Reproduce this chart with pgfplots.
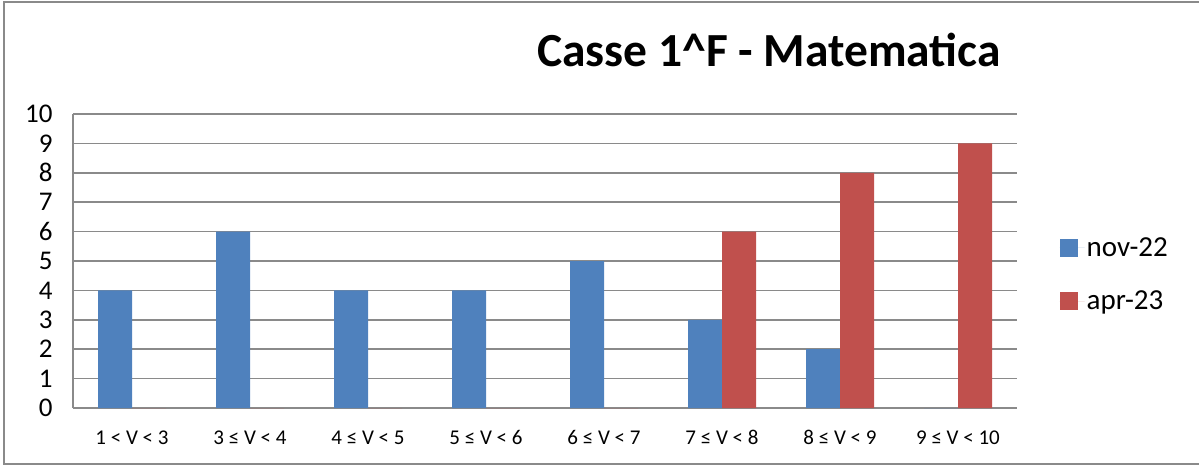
\documentclass[border=0pt]{standalone}
\usepackage{fontspec}
\setmainfont{Carlito}
\usepackage{pgfplots}
\pgfplotsset{compat=1.18}
\definecolor{cblue}{HTML}{4F81BD}
\definecolor{cred}{HTML}{C0504D}
\definecolor{cgrid}{HTML}{8A8A8A}
\begin{document}
\begin{tikzpicture}[x=1pt,y=1pt]
\useasboundingbox (0,0) rectangle (1199,466);
\draw[cgrid, line width=2pt] (4,2) rectangle (1215,464);
\node[font=\bfseries\fontsize{47.5}{56}\selectfont, anchor=base] at (769,399) {Casse 1\textasciicircum F - Matematica};
\begin{axis}[
  at={(73pt,58pt)}, anchor=south west,
  width=944pt, height=294pt, scale only axis,
  xmin=-0.5, xmax=7.5, ymin=0, ymax=10,
  ytick={0,...,10}, xtick={0,...,7},
  xticklabels={1 < V < 3, 3 ≤ V < 4, 4 ≤ V < 5, 5 ≤ V < 6, 6 ≤ V < 7, 7 ≤ V < 8, 8 ≤ V < 9, 9 ≤ V < 10},
  /pgf/number format/assume math mode=true,
  yticklabel style={font=\fontsize{27}{30}\selectfont, xshift=-17pt},
  xticklabel style={font=\fontsize{21}{25}\selectfont, yshift=-19pt},
  ymajorgrids, grid style={cgrid, line width=1.5pt},
  axis lines*=left,
  axis line style={cgrid, line width=1.5pt},
  major tick length=0,
  ybar=0pt, bar width=34pt,
  legend style={draw=none, at={(1.045,0.454)}, anchor=west, font=\fontsize{29}{34}\selectfont, row sep=29pt, inner sep=0pt},
  legend cell align=left,
  legend image code/.code={\fill[#1] (0pt,-9pt) rectangle (18pt,9pt); \path (0pt,0pt) -- (25pt,0pt);},
]
\addplot[fill=cblue, draw=none] coordinates {(0,4) (1,6) (2,4) (3,4) (4,5) (5,3) (6,2) (7,0)};
\addplot[fill=cred, draw=none] coordinates {(0,0) (1,0) (2,0) (3,0) (4,0) (5,6) (6,8) (7,9)};
\legend{nov-22, apr-23}
\end{axis}
\end{tikzpicture}
\end{document}
